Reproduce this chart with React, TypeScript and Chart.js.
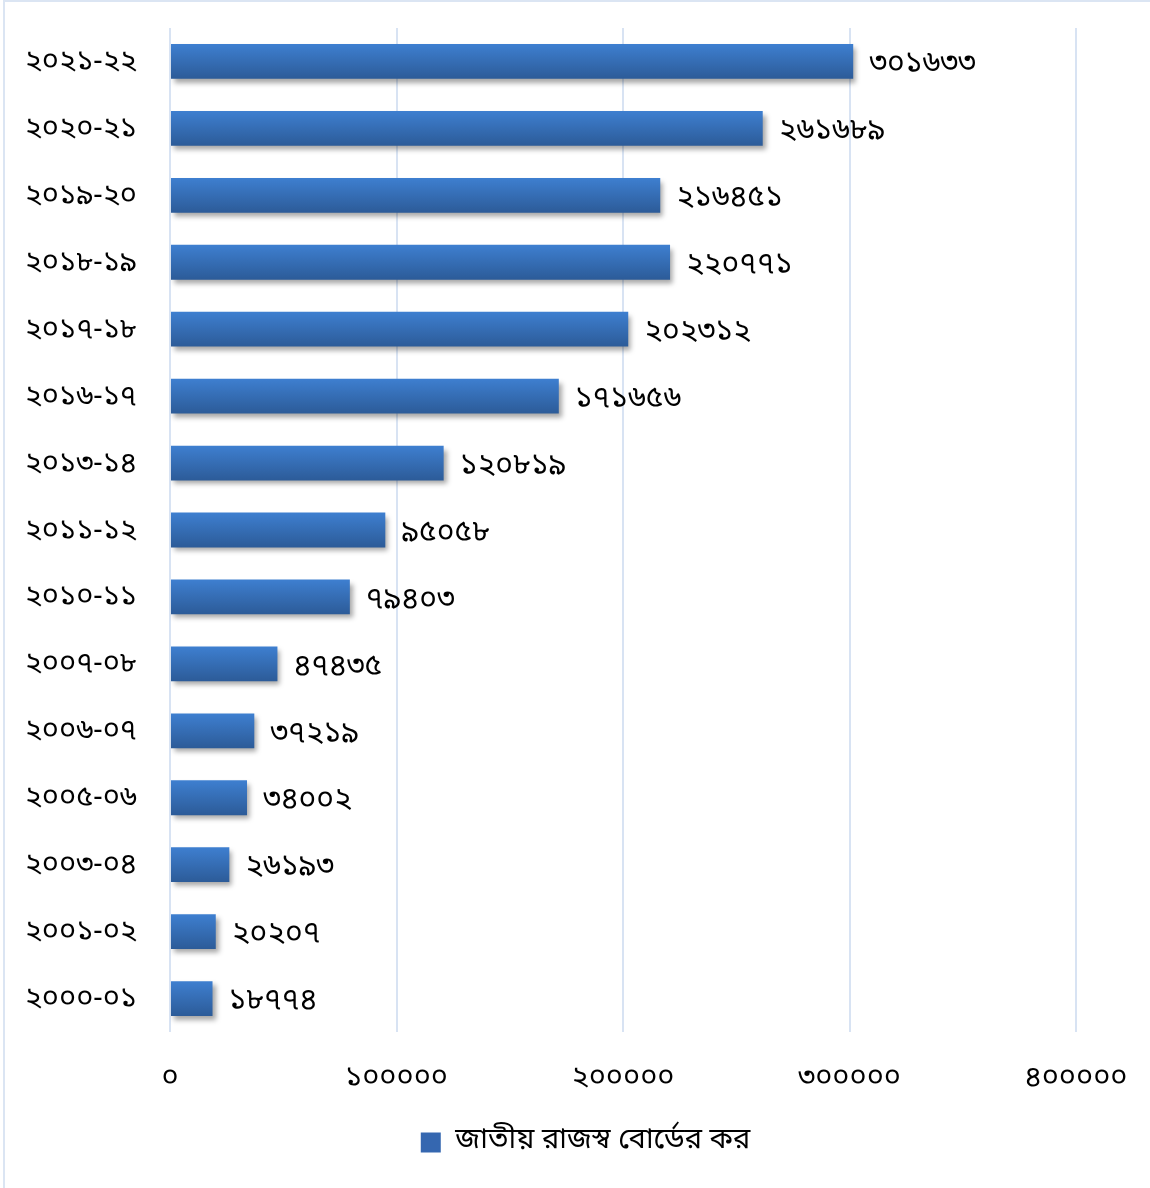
import React, { useEffect, useRef } from "react";
import { Chart, registerables } from "chart.js";

Chart.register(...registerables);

const categories = [
  "২০২১-২২",
  "২০২০-২১",
  "২০১৯-২০",
  "২০১৮-১৯",
  "২০১৭-১৮",
  "২০১৬-১৭",
  "২০১৩-১৪",
  "২০১১-১২",
  "২০১০-১১",
  "২০০৭-০৮",
  "২০০৬-০৭",
  "২০০৫-০৬",
  "২০০৩-০৪",
  "২০০১-০২",
  "২০০০-০১",
];
const revenueValues = [
  301633, 261689, 216451, 220771, 202312, 171656, 120819, 95058, 79403, 47435,
  37219, 34002, 26193, 20207, 18774,
];
const seriesLabel = "জাতীয় রাজস্ব বোর্ডের কর";
const xTickValues = [0, 100000, 200000, 300000, 400000];

const FONT = "Vrinda, 'Noto Sans Bengali', 'Noto Serif Bengali', 'Lohit Bengali', 'Noto Sans', sans-serif";
const bnDigits = "০১২৩৪৫৬৭৮৯";
const toBn = (n: number) => String(n).replace(/\d/g, (d) => bnDigits[Number(d)]);

const BAR_PCT = 0.52;

export default function App() {
  const ref = useRef<HTMLCanvasElement | null>(null);

  useEffect(() => {
    if (!ref.current) return;

    const shadowPlugin = {
      id: "barShadow",
      beforeDatasetsDraw(chart: any) {
        const ctx = chart.ctx;
        ctx.save();
        ctx.shadowColor = "rgba(0,0,0,0.35)";
        ctx.shadowOffsetX = 3;
        ctx.shadowOffsetY = 4;
        ctx.shadowBlur = 5;
      },
      afterDatasetsDraw(chart: any) {
        chart.ctx.restore();
      },
    };

    const legendShift = {
      id: "legendShift",
      afterLayout(chart: any) {
        const lg = chart.legend;
        if (lg) {
          lg.left += 45;
          lg.right += 45;
        }
      },
    };

    const labelPlugin = {
      id: "valueLabels",
      afterDatasetsDraw(chart: any) {
        const ctx = chart.ctx;
        const meta = chart.getDatasetMeta(0);
        ctx.save();
        ctx.font = `30px ${FONT}`;
        ctx.fillStyle = "#000";
        ctx.textAlign = "left";
        ctx.textBaseline = "middle";
        meta.data.forEach((bar: any, i: number) => {
          ctx.fillText(toBn(revenueValues[i]), bar.x + 16, bar.y + 5);
        });
        ctx.restore();
      },
    };

    const chart = new Chart(ref.current, {
      type: "bar",
      data: {
        labels: categories,
        datasets: [
          {
            label: seriesLabel,
            data: revenueValues,
            backgroundColor: (c: any) => {
              const ch = c.chart;
              const area = ch.chartArea;
              const y = ch.scales?.y;
              if (!area || !y || c.dataIndex === undefined) return "#3a73c0";
              const center = y.getPixelForValue(c.dataIndex);
              const h = (area.height / categories.length) * BAR_PCT;
              const g = ch.ctx.createLinearGradient(0, center - h / 2, 0, center + h / 2);
              g.addColorStop(0, "#3e7fd0");
              g.addColorStop(1, "#2c5b98");
              return g;
            },
            borderWidth: 0,
            barPercentage: BAR_PCT,
            categoryPercentage: 1,
          },
        ],
      },
      options: {
        indexAxis: "y",
        animation: false,
        responsive: false,
        maintainAspectRatio: false,
        layout: { padding: { top: 26, right: 74, left: 0, bottom: 21 } },
        scales: {
          x: {
            min: 0,
            max: 400000,
            afterBuildTicks: (scale: any) => {
              scale.ticks = xTickValues.map((v) => ({ value: v }));
            },
            afterFit: (scale: any) => {
              scale.height = 86;
              scale.paddingLeft = 0;
              scale.paddingRight = 0;
            },
            ticks: {
              font: { family: FONT, size: 29 },
              color: "#000",
              padding: 31,
              callback: (v: any) => toBn(Number(v)),
            },
            grid: {
              color: "#d8e3f3",
              lineWidth: 2,
              drawTicks: false,
            },
            border: { display: false },
          },
          y: {
            afterFit: (scale: any) => {
              scale.width = 165;
              scale.paddingTop = 0;
              scale.paddingBottom = 0;
            },
            ticks: {
              font: { family: FONT, size: 29 },
              color: "#000",
              padding: 33,
              labelOffset: 3,
            },
            grid: { display: false, drawTicks: false },
            border: { display: false },
          },
        },
        plugins: {
          legend: {
            position: "bottom",
            labels: {
              font: { family: FONT, size: 29 },
              color: "#000",
              boxWidth: 20,
              boxHeight: 20,
              padding: 10,
              generateLabels: () => [
                {
                  text: seriesLabel,
                  fillStyle: "#3567b0",
                  strokeStyle: "#3567b0",
                  lineWidth: 0,
                  hidden: false,
                  datasetIndex: 0,
                } as any,
              ],
            },
          },
          tooltip: { enabled: false },
        },
      },
      plugins: [shadowPlugin, labelPlugin, legendShift],
    } as any);

    return () => chart.destroy();
  }, []);

  return (
    <div
      style={{
        position: "absolute",
        left: 0,
        top: 0,
        width: 1150,
        height: 1188,
        background: "#fff",
      }}
    >
      <div
        style={{
          position: "absolute",
          left: 3,
          top: 0,
          width: 1147,
          height: 1188,
          boxSizing: "border-box",
          borderLeft: "2px solid #dbe5f3",
          borderTop: "2px solid #dbe5f3",
        }}
      >
        <canvas ref={ref} width={1145} height={1186} style={{ display: "block" }} />
      </div>
    </div>
  );
}
